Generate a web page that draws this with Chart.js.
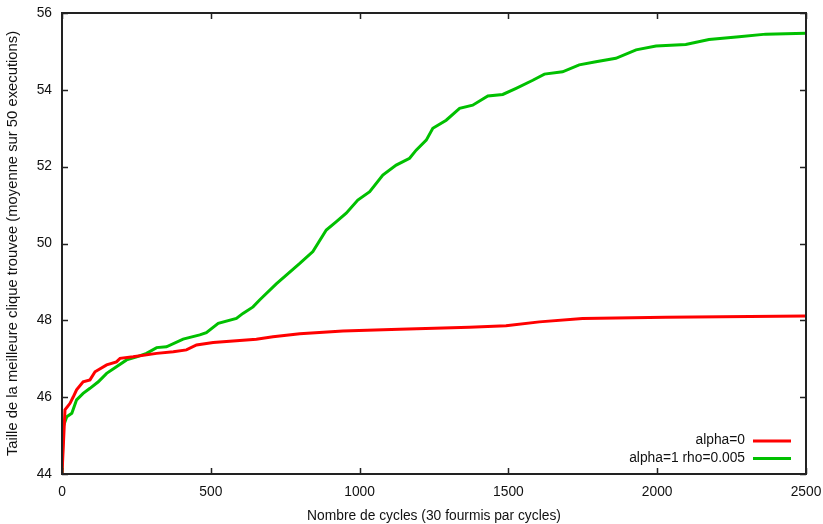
<!DOCTYPE html>
<html>
<head>
<meta charset="utf-8">
<script src="https://cdn.jsdelivr.net/npm/chart.js@4/dist/chart.umd.min.js"></script>
<style>
  html, body { margin: 0; padding: 0; background: #fff; }
  #wrap { width: 823px; height: 524px; }
</style>
</head>
<body>
<div id="wrap"><canvas id="chart"></canvas></div>
<script>
// alpha=0
var redCycles = [0, 10, 27, 38, 49, 71, 94, 111, 150, 183, 195, 239, 318, 374, 418, 452, 508, 653, 709, 799, 944, 1134, 1369, 1492, 1604, 1749, 2029, 2500];
var redValues = [44, 45.67, 45.84, 46.01, 46.19, 46.40, 46.45, 46.66, 46.84, 46.92, 47.01, 47.05, 47.14, 47.18, 47.23, 47.36, 47.42, 47.51, 47.57, 47.65, 47.72, 47.77, 47.82, 47.86, 47.96, 48.05, 48.08, 48.11];

// alpha=1 rho=0.005
var greenCycles = [0, 4, 16, 33, 49, 71, 94, 122, 150, 183, 217, 251, 284, 318, 351, 407, 463, 485, 525, 586, 608, 642, 664, 720, 799, 843, 888, 922, 955, 994, 1034, 1078, 1123, 1168, 1190, 1224, 1246, 1291, 1336, 1380, 1431, 1481, 1526, 1582, 1621, 1682, 1738, 1794, 1861, 1929, 1996, 2096, 2174, 2275, 2365, 2500];
var greenValues = [44, 45.23, 45.49, 45.58, 45.93, 46.10, 46.23, 46.40, 46.62, 46.79, 46.97, 47.05, 47.14, 47.29, 47.31, 47.51, 47.62, 47.68, 47.92, 48.05, 48.18, 48.35, 48.53, 48.95, 49.48, 49.79, 50.35, 50.57, 50.79, 51.13, 51.35, 51.78, 52.04, 52.22, 52.43, 52.69, 53.00, 53.21, 53.52, 53.60, 53.84, 53.88, 54.04, 54.25, 54.41, 54.47, 54.65, 54.73, 54.82, 55.04, 55.14, 55.18, 55.31, 55.38, 55.45, 55.47];

var xTicks = [0, 500, 1000, 1500, 2000, 2500];
var yTicks = [44, 46, 48, 50, 52, 54, 56];

function toPoints(xs, ys) {
    return xs.map(function (x, i) { return { x: x, y: ys[i] }; });
}

var FONT = '"Liberation Sans", Arial, sans-serif';
var FSIZE = 13.8;

// gnuplot-like frame: box border, ticks pointing inward on all four sides, key at bottom right
var framePlugin = {
    id: 'frame',
    afterDatasetsDraw: function (chart) {
        var ctx = chart.ctx;
        var a = chart.chartArea;
        var xs = chart.scales.x, ys = chart.scales.y;
        var len = 6;
        ctx.save();
        ctx.strokeStyle = '#222';
        ctx.lineWidth = 1.5;
        ctx.beginPath();
        xTicks.forEach(function (t) {
            var px = Math.round(xs.getPixelForValue(t)) + 0.5;
            ctx.moveTo(px, a.bottom); ctx.lineTo(px, a.bottom - len);
            ctx.moveTo(px, a.top); ctx.lineTo(px, a.top + len);
        });
        yTicks.forEach(function (t) {
            var py = Math.round(ys.getPixelForValue(t)) + 0.5;
            ctx.moveTo(a.left, py); ctx.lineTo(a.left + len, py);
            ctx.moveTo(a.right, py); ctx.lineTo(a.right - len, py);
        });
        ctx.stroke();
        ctx.lineWidth = 2;
        ctx.strokeRect(a.left, a.top, a.right - a.left, a.bottom - a.top);

        // key
        ctx.font = FSIZE + 'px ' + FONT;
        ctx.textAlign = 'right';
        ctx.textBaseline = 'middle';
        chart.data.datasets.forEach(function (ds, i) {
            var y = a.bottom - 33.5 + i * 17.5;
            ctx.fillStyle = '#111';
            ctx.fillText(ds.label, a.right - 61, y);
            ctx.strokeStyle = ds.borderColor;
            ctx.lineWidth = 3;
            ctx.beginPath();
            ctx.moveTo(a.right - 53, y + 0.5);
            ctx.lineTo(a.right - 15, y + 0.5);
            ctx.stroke();
        });
        ctx.restore();
    }
};

new Chart(document.getElementById('chart'), {
    type: 'line',
    data: {
        datasets: [
            {
                label: 'alpha=0',
                data: toPoints(redCycles, redValues),
                borderColor: '#ff0000',
                borderWidth: 3,
                pointRadius: 0,
                tension: 0,
                fill: false
            },
            {
                label: 'alpha=1 rho=0.005',
                data: toPoints(greenCycles, greenValues),
                borderColor: '#00c000',
                borderWidth: 3,
                pointRadius: 0,
                tension: 0,
                fill: false
            }
        ]
    },
    options: {
        responsive: true,
        maintainAspectRatio: false,
        animation: false,
        layout: { padding: { left: 0, top: 13, right: 17, bottom: 0 } },
        plugins: {
            legend: { display: false },
            tooltip: { enabled: false }
        },
        scales: {
            x: {
                type: 'linear',
                min: 0,
                max: 2500,
                afterFit: function (s) {
                    s.height = 50;
                    s.paddingLeft = 0;
                    s.paddingRight = 0;
                },
                afterBuildTicks: function (s) { s.ticks = xTicks.map(function (v) { return { value: v }; }); },
                grid: { display: false, drawTicks: false },
                border: { display: false },
                ticks: {
                    color: '#111', padding: 10, maxRotation: 0,
                    font: { family: FONT, size: FSIZE },
                    callback: function (v) { return String(v); }
                },
                title: {
                    display: true,
                    text: 'Nombre de cycles (30 fourmis par cycles)',
                    color: '#111',
                    font: { family: FONT, size: FSIZE },
                    padding: { top: 0, bottom: 0 }
                }
            },
            y: {
                min: 44,
                max: 56,
                afterFit: function (s) {
                    s.width = 62;
                    s.paddingTop = 0;
                    s.paddingBottom = 0;
                },
                afterBuildTicks: function (s) { s.ticks = yTicks.map(function (v) { return { value: v }; }); },
                grid: { display: false, drawTicks: false },
                border: { display: false },
                ticks: {
                    color: '#111', padding: 10,
                    font: { family: FONT, size: FSIZE },
                    callback: function (v) { return String(v); }
                },
                title: {
                    display: true,
                    text: 'Taille de la meilleure clique trouvee (moyenne sur 50 executions)',
                    color: '#111',
                    font: { family: FONT, size: 14.8 },
                    padding: { top: 4, bottom: 0 }
                }
            }
        }
    },
    plugins: [framePlugin]
});
</script>
</body>
</html>
